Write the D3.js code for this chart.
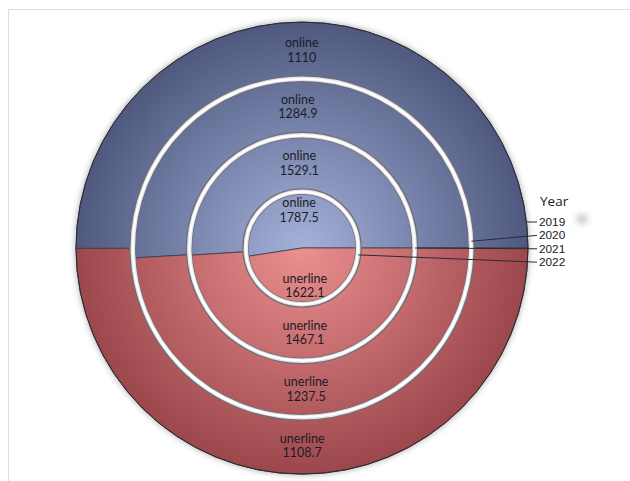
<!DOCTYPE html>
<html>
<head>
<meta charset="utf-8">
<script src="https://cdn.jsdelivr.net/npm/d3@7"></script>
<style>
  body { margin: 0; background: #fff; }
  svg { display: block; font-family: Lato, "Open Sans", sans-serif; }
</style>
</head>
<body>
<svg id="chart" width="630" height="481"></svg>
<script>
// years from outer ring to inner pie
var years = ["2019", "2020", "2021", "2022"];
var channels = ["online", "unerline"];
var online = [1110, 1284.9, 1529.1, 1787.5];
var unerline = [1108.7, 1237.5, 1467.1, 1622.1];

var width = 630, height = 481;
var cx = 302, cy = 248, R = 226;

var svg = d3.select("#chart");
var defs = svg.append("defs");

// frame (only top and left edges are visible)
svg.append("rect")
    .attr("x", 8.5).attr("y", 9.5)
    .attr("width", 700).attr("height", 600)
    .attr("fill", "none")
    .attr("stroke", "#dcdcdc");

// radial shading over the whole pie (coords are local to the centered group)
function grad(id, c0, c1) {
    var g = defs.append("radialGradient")
        .attr("id", id)
        .attr("gradientUnits", "userSpaceOnUse")
        .attr("cx", 0).attr("cy", 0).attr("r", R);
    g.append("stop").attr("offset", "0%").attr("stop-color", c0);
    g.append("stop").attr("offset", "100%").attr("stop-color", c1);
}
grad("gBlue", "#a4b1d9", "#4f5980");
grad("gRed", "#ec9090", "#9b474c");

var blur = defs.append("filter").attr("id", "blur")
    .attr("x", "-50%").attr("y", "-50%").attr("width", "200%").attr("height", "200%");
blur.append("feGaussianBlur").attr("stdDeviation", 3);

var color = d3.scaleOrdinal().domain(channels).range(["url(#gBlue)", "url(#gRed)"]);

// ring radius: index 0 -> outer edge, index 4 -> center
var rad = d3.scaleLinear().domain([0, years.length]).range([R, 0]);

// starts at the right side and runs counter-clockwise
var pie = d3.pie().sort(null)
    .startAngle(Math.PI / 2)
    .endAngle(Math.PI / 2 - 2 * Math.PI)
    .value(d => d.value);

var g = svg.append("g").attr("transform", "translate(" + cx + "," + cy + ")");

// soft shadow under the pie
g.append("circle")
    .attr("r", R + 0.5)
    .attr("fill", "#555")
    .attr("opacity", 0.5)
    .attr("filter", "url(#blur)");

years.forEach(function(year, i) {
    var slices = pie([
        { key: "online", value: online[i] },
        { key: "unerline", value: unerline[i] }
    ]);
    var outer = rad(i), inner = rad(i + 1);
    var arc = d3.arc().innerRadius(inner).outerRadius(outer);

    var ring = g.append("g").attr("class", "ring y" + year);
    ring.selectAll("path")
        .data(slices)
        .join("path")
        .attr("d", arc)
        .attr("fill", d => color(d.data.key))
        .attr("stroke", "#3a3a48")
        .attr("stroke-width", 0.8);

    var lr = inner > 0 ? (inner + outer) / 2 : outer * 0.67;
    var lab = d3.arc().innerRadius(lr).outerRadius(lr);
    var t = ring.selectAll("g.lbl")
        .data(slices)
        .join("g")
        .attr("class", "lbl")
        .attr("transform", d => "translate(" + lab.centroid(d) + ")");
    t.append("text")
        .attr("text-anchor", "middle").attr("font-size", 12.5).attr("fill", "#1c1c26")
        .attr("y", -3).text(d => d.data.key);
    t.append("text")
        .attr("text-anchor", "middle").attr("font-size", 12.5).attr("fill", "#1c1c26")
        .attr("y", 11.5).text(d => d.data.value);
});

// white separators between rings
d3.range(1, years.length).forEach(function(i) {
    g.append("circle").attr("r", rad(i)).attr("fill", "none")
        .attr("stroke", "#6e6e74").attr("stroke-width", 6.5);
    g.append("circle").attr("r", rad(i) - 0.3).attr("fill", "none")
        .attr("stroke", "#e2e2e4").attr("stroke-width", 4.5);
    g.append("circle").attr("r", rad(i) - 0.3).attr("fill", "none")
        .attr("stroke", "#ffffff").attr("stroke-width", 2.2);
});

g.append("circle").attr("r", R).attr("fill", "none")
    .attr("stroke", "#2a2a30").attr("stroke-width", 1);

// legend with leader lines
var lx = 539, ly0 = 226, lstep = 13.4;
var leaderAngles = [-6.6, -2.3, 0, 7]; // degrees, where each leader meets its ring

svg.append("text")
    .attr("x", lx + 1).attr("y", 206)
    .attr("font-size", 13.5)
    .attr("font-family", "'Open Sans', sans-serif")
    .attr("fill", "#1a1a1a")
    .text("Year");

var leg = svg.append("g").attr("class", "legend")
    .style("font-family", "'Liberation Sans', Arial, sans-serif");
years.forEach(function(year, i) {
    var a = leaderAngles[i] * Math.PI / 180;
    var r0 = rad(i);
    var yy = ly0 + i * lstep;
    leg.append("line")
        .attr("x1", cx + r0 * Math.cos(a))
        .attr("y1", cy + r0 * Math.sin(a))
        .attr("x2", lx - 2)
        .attr("y2", yy - 4)
        .attr("stroke", "#2a2a38")
        .attr("stroke-width", 1);
    leg.append("text")
        .attr("x", lx).attr("y", yy)
        .attr("font-size", 11.8)
        .attr("fill", "#1a1a1a")
        .text(year);
});

// faint smudge next to the first legend entry
svg.append("ellipse")
    .attr("cx", 582).attr("cy", 219)
    .attr("rx", 6).attr("ry", 5)
    .attr("fill", "#c8c8c8")
    .attr("filter", "url(#blur)");
</script>
</body>
</html>
